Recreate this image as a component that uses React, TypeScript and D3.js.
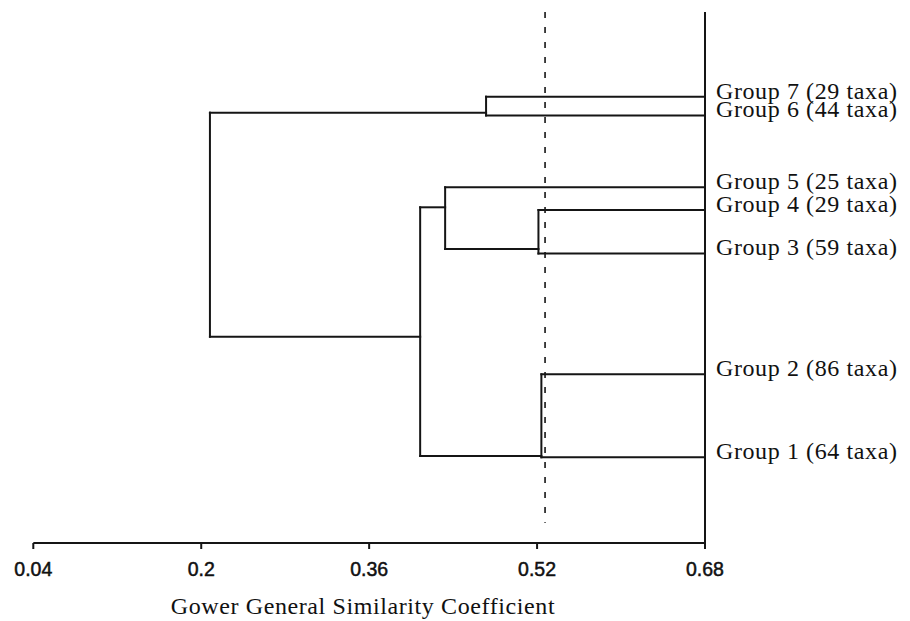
import React from "react";
import * as d3 from "d3";

// Leaves (top to bottom)
const groupLabels = [
  "Group 7 (29 taxa)",
  "Group 6 (44 taxa)",
  "Group 5 (25 taxa)",
  "Group 4 (29 taxa)",
  "Group 3 (59 taxa)",
  "Group 2 (86 taxa)",
  "Group 1 (64 taxa)",
];
// vertical position of each leaf branch (0 = top of plot, 100 = axis)
const leafPos = [15.95, 19.49, 33.01, 37.29, 45.48, 68.23, 83.86];

// Merges: node ids continue after leaves (7, 8, ...)
const mergeChildren: [number, number][] = [
  [0, 1], // 7: G7 + G6
  [3, 4], // 8: G4 + G3
  [2, 8], // 9: G5 + (G4,G3)
  [5, 6], // 10: G2 + G1
  [9, 10], // 11
  [7, 11], // 12: root
];
const mergeSimilarity = [0.4714, 0.5213, 0.4324, 0.5241, 0.4086, 0.2083];
const mergeStemPos = [18.96, 44.63, 36.78, 83.62, 61.15, 0];

const leafSimilarity = 0.68;
const cutoff = 0.5276;
const cutoffExtent = [0, 96.2];

const xTicks = [0.04, 0.2, 0.36, 0.52, 0.68];
const xTitle = "Gower General Similarity Coefficient";

export default function App() {
  const W = 910;
  const H = 621;
  const x = d3.scaleLinear().domain([0.04, 0.68]).range([33.3, 705]);
  const y = d3.scaleLinear().domain([0, 100]).range([12, 543]);

  const nLeaves = groupLabels.length;
  const heightOf = (id: number) => (id < nLeaves ? leafSimilarity : mergeSimilarity[id - nLeaves]);
  const stemOf = (id: number) => (id < nLeaves ? leafPos[id] : mergeStemPos[id - nLeaves]);

  const segs: { x1: number; y1: number; x2: number; y2: number }[] = [];
  mergeChildren.forEach((ch, i) => {
    const h = mergeSimilarity[i];
    const ys = ch.map(stemOf);
    segs.push({ x1: x(h), y1: y(d3.min(ys)!), x2: x(h), y2: y(d3.max(ys)!) });
    ch.forEach((c) => {
      segs.push({ x1: x(h), y1: y(stemOf(c)), x2: x(heightOf(c)), y2: y(stemOf(c)) });
    });
  });

  const stroke = "#151515";
  const serif = "'Liberation Serif', 'Times New Roman', serif";

  return (
    <svg
      width={W}
      height={H}
      style={{ position: "absolute", left: 0, top: 0, background: "#fff" }}
    >
      <rect x={0} y={0} width={W} height={H} fill="#fff" />
      {/* cutoff dashed line */}
      <line
        x1={x(cutoff)}
        x2={x(cutoff)}
        y1={y(cutoffExtent[0])}
        y2={y(cutoffExtent[1])}
        stroke={stroke}
        strokeWidth={1.6}
        strokeDasharray="6,9"
      />
      {/* dendrogram */}
      {segs.map((s, i) => (
        <line
          key={i}
          x1={s.x1}
          y1={s.y1}
          x2={s.x2}
          y2={s.y2}
          stroke={stroke}
          strokeWidth={2}
          strokeLinecap="square"
        />
      ))}
      {/* right baseline */}
      <line x1={x(0.68)} x2={x(0.68)} y1={y(0)} y2={y(100)} stroke={stroke} strokeWidth={2} />
      {/* x axis */}
      <line x1={x(0.04)} x2={x(0.68)} y1={y(100)} y2={y(100)} stroke={stroke} strokeWidth={2} />
      {xTicks.map((t) => (
        <g key={t}>
          <line x1={x(t)} x2={x(t)} y1={y(100)} y2={y(100) + 6} stroke={stroke} strokeWidth={2} />
          <text
            x={x(t)}
            y={576}
            textAnchor="middle"
            fontFamily="'Liberation Sans', Arial, sans-serif"
            fontSize={19.5}
            fill="#111"
            stroke="#111"
            strokeWidth={0.5}
          >
            {String(t)}
          </text>
        </g>
      ))}
      <text
        x={363}
        y={614}
        textAnchor="middle"
        fontFamily={serif}
        fontSize={24}
        letterSpacing={0.6}
        fill="#111"
      >
        {xTitle}
      </text>
      {/* leaf labels */}
      {groupLabels.map((g, i) => (
        <text
          key={g}
          x={x(leafSimilarity) + 11}
          y={y(leafPos[i]) + 2}
          fontFamily={serif}
          fontSize={24}
          letterSpacing={0.6}
          fill="#111"
        >
          {g}
        </text>
      ))}
    </svg>
  );
}
